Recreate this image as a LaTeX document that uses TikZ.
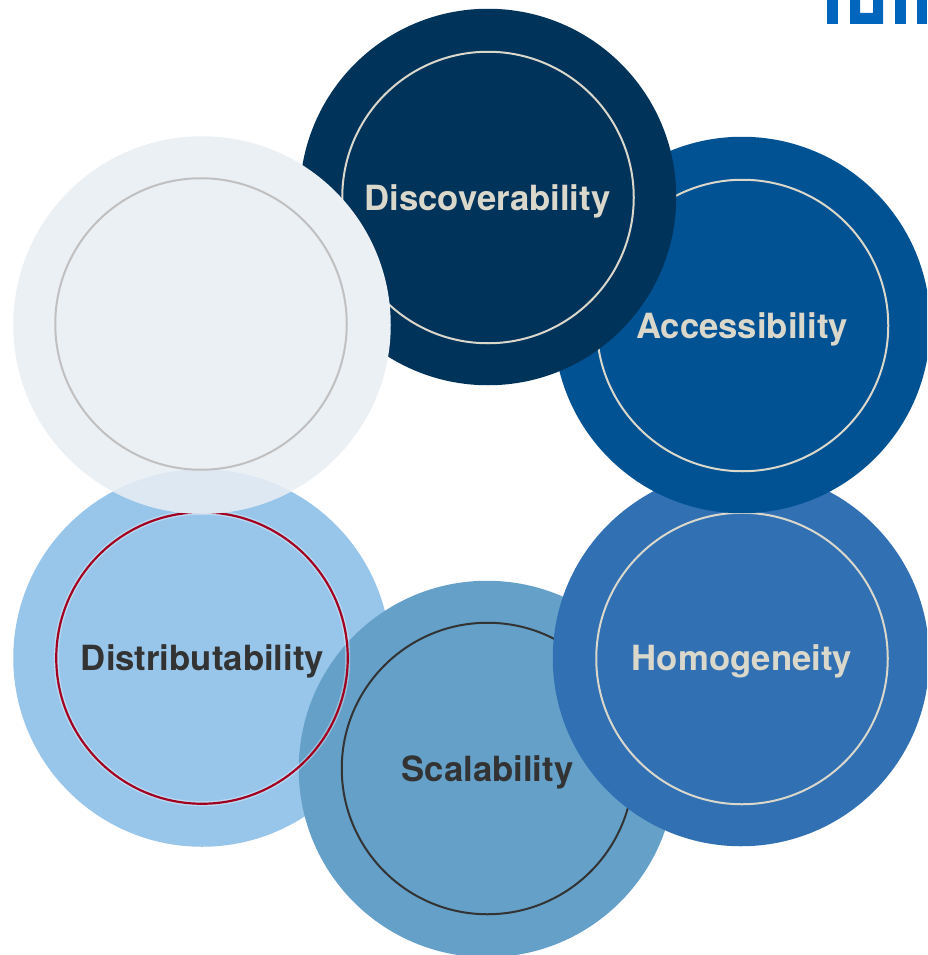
\documentclass[tikz,border=0pt]{standalone}
\usepackage{fontspec}
\setmainfont{TeX Gyre Heros}
\definecolor{cDisc}{HTML}{003359}
\definecolor{cAcc}{HTML}{005293}
\definecolor{cHom}{HTML}{3070B3}
\definecolor{cScal}{HTML}{64A0C8}
\definecolor{cDist}{HTML}{98C6EA}
\definecolor{cLight}{HTML}{EBF0F5}
\definecolor{cLens}{HTML}{DDE8F2}
\definecolor{cIvory}{HTML}{DAD7CB}
\definecolor{cDark}{HTML}{333333}
\definecolor{cRed}{HTML}{A2001F}
\definecolor{cGrey}{HTML}{C0C0C0}
\definecolor{cTum}{HTML}{0065BD}
\tikzset{
  outerdisc/.style={circle,inner sep=0pt,outer sep=0pt,minimum size=376.5pt,fill=#1},
  innerring/.style={circle,inner sep=0pt,outer sep=0pt,minimum size=291.5pt,draw=#1,line width=2pt},
  lab/.style={font=\bfseries\fontsize{34.7}{35}\selectfont,text=#1,inner sep=0pt,anchor=base},
  logobar/.style={fill=cTum,draw=none}
}
\begin{document}
\begin{tikzpicture}[x=1pt,y=-1pt]
\useasboundingbox (0,0) rectangle (927,955);
\clip (0,0) rectangle (927,955);
\fill[white] (0,0) rectangle (927,955);
% logo
\fill[logobar] (827,0) rectangle (838,24);
\fill[logobar] (850,0) -- (860,0) -- (860,13) -- (873,13) -- (873,0) -- (883,0) -- (883,24) -- (850,24) -- cycle;
\fill[logobar] (895,0) rectangle (905.5,24);
\fill[logobar] (917,0) rectangle (927,24);
% distributability
\node[outerdisc=cDist,minimum size=377.5pt] (distO) at (202,658) {};
% scalability
\node[outerdisc=cScal] (scalO) at (487,769) {};
\node[innerring=cDark] (scalI) at (487.5,768.5) {};
\node[lab=cDark] (scalT) at (487.5,781) {Scalability};
% distributability ring and text lie over scalability
\node[circle,inner sep=0pt,outer sep=0pt,minimum size=291.5pt,draw=white,draw opacity=.35,line width=5pt] (distG) at (202,658) {};
\node[innerring=cRed,line width=2.2pt] (distI) at (202,658) {};
\node[lab=cDark] (distT) at (202.5,670) {Distributability};
% homogeneity
\node[outerdisc=cHom] (homO) at (741,658) {};
\node[innerring=cIvory] (homI) at (742,658.5) {};
\node[lab=cIvory] (homT) at (742,670) {Homogeneity};
% accessibility
\node[outerdisc=cAcc] (accO) at (742,325) {};
\node[innerring=cIvory] (accI) at (742.5,325.5) {};
\node[lab=cIvory] (accT) at (742,338) {Accessibility};
% discoverability
\node[outerdisc=cDisc] (discO) at (488,197) {};
\node[innerring=cIvory] (discI) at (488,197.5) {};
\node[lab=cIvory] (discT) at (487.5,210) {Discoverability};
% pale circle
\node[outerdisc=cLight,minimum size=377.5pt] (paleO) at (202,325) {};
\begin{scope}
\clip (202,658) circle[radius=188.75];
\fill[cLens] (202,325) circle[radius=188.75];
\end{scope}
\node[innerring=cGrey] (paleI) at (201,324) {};
\end{tikzpicture}
\end{document}
